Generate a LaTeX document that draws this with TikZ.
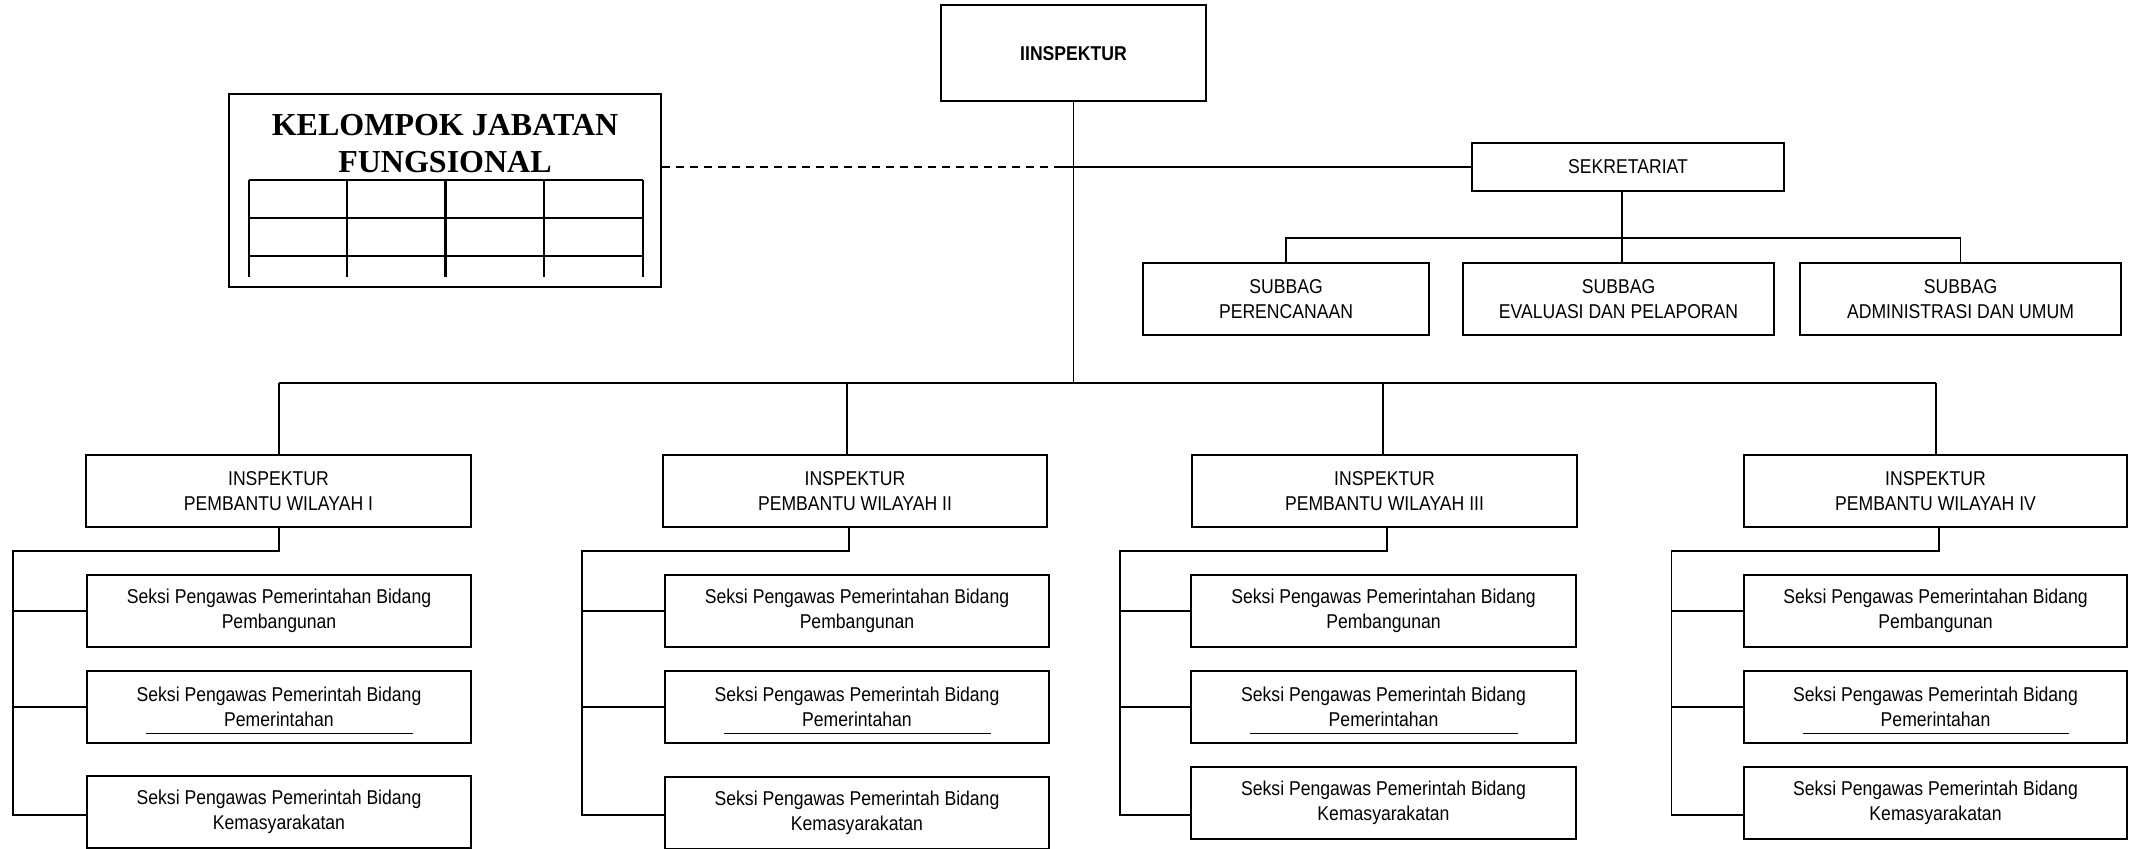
\documentclass[tikz,border=0pt]{standalone}
\usepackage{fontspec}
\setmainfont[FakeStretch=0.88]{Liberation Sans}
\newfontfamily\titlefont{Liberation Serif}
\usetikzlibrary{calc}
\begin{document}
\begin{tikzpicture}[x=0.5pt,y=-0.5pt,
  unit/.style={draw, line width=1pt, inner sep=0pt, align=center,
    minimum height=36pt, font=\fontsize{10}{12.5}\selectfont},
  conn/.style={line width=0.9pt},
  grid/.style={line width=1.25pt},
  uline/.style={line width=0.5pt}]
\fill[white] (0,0) rectangle (2136,849);
\useasboundingbox (0,0) rectangle (2136,849);

% head of the office
\node[unit, minimum width=132.5pt, minimum height=48pt,
  font=\bfseries\fontsize{10}{12.5}\selectfont] (insp) at (1073.5,53.5) {IINSPEKTUR};

% functional group panel with its grid
\node[draw, line width=1.25pt, minimum width=216pt, minimum height=96.5pt, inner sep=0pt] (kjf) at (445,190.5) {};
\node[font=\titlefont\bfseries\fontsize{16}{18.5}\selectfont, align=center, inner sep=0pt]
  (kjft) at (445,143.5) {KELOMPOK JABATAN\\FUNGSIONAL};
\foreach \y in {180,218,256} \draw[grid] (249,\y) -- (643,\y);
\foreach \x in {249,347,445.5,544,643} \draw[grid] (\x,180) -- (\x,277);

% secretariat and its sub-sections
\node[unit, minimum width=156pt, minimum height=24pt] (sek) at (1628,167) {SEKRETARIAT};
\node[unit, minimum width=143pt] (sub1) at (1286,299) {SUBBAG\\PERENCANAAN};
\node[unit, minimum width=155.5pt] (sub2) at (1618.5,299) {SUBBAG\\EVALUASI DAN PELAPORAN};
\node[unit, minimum width=160.5pt] (sub3) at (1960.5,299) {SUBBAG\\ADMINISTRASI DAN UMUM};

\coordinate (j) at (1055,167);
\draw[conn, dashed, dash pattern=on 3.75pt off 3.25pt] (j -| kjf.east) -- (j);
\draw[conn] (j) -- (sek.west);
\coordinate (sb) at (1622,238);
\draw[conn] (sb |- sek.south) -- (sb);
\draw[conn] (sub1.north) -- (sub1.north |- sb) -- (sub3.north |- sb) -- (sub3.north);
\draw[conn] (sb) -- (sb |- sub2.north);

% the four regional inspectors and their sections
\foreach \i/\wx/\ww/\sx/\sw/\sy/\dx/\bx/\px/\nr in {
  1/278.5/192.5/279/192/811.5/279/279/13/I,
  2/855/192/857/192/813/847/849/582/II,
  3/1384.5/192.5/1383.5/192.5/803/1383/1387/1120/III,
  4/1935.5/191.5/1935.5/191.5/803/1936/1939/1671.5/IV}{
  \node[unit, minimum width=\ww pt] (w\i) at (\wx,491) {INSPEKTUR\\PEMBANTU WILAYAH \nr};
  \node[unit, minimum width=\sw pt] (s\i1) at (\sx,611)
    {Seksi Pengawas Pemerintahan Bidang\\Pembangunan};
  \node[unit, minimum width=\sw pt] (s\i2) at (\sx,707)
    {Seksi Pengawas Pemerintah Bidang\\Pemerintahan};
  \node[unit, minimum width=\sw pt] (s\i3) at (\sx,\sy)
    {Seksi Pengawas Pemerintah Bidang\\Kemasyarakatan};
  \draw[uline] ($(s\i2.south west)+(60,-11)$) -- ($(s\i2.south east)+(-59,-11)$);
  \coordinate (d\i) at (\dx,383);
  \coordinate (t\i) at (\bx,551);
  \coordinate (b\i) at (\px,815);
  \draw[conn] (d\i) -- (d\i |- w\i.north);
  \draw[conn] (t\i |- w\i.south) -- (t\i) -| (b\i) -- (b\i -| s\i3.west);
  \draw[conn] (s\i1.west) -- (s\i1.west -| b\i);
  \draw[conn] (s\i2.west) -- (s\i2.west -| b\i);
}
\draw[conn] (d1) -- (d4);
\draw[conn] (insp.south) -- (insp.south |- d1);
\end{tikzpicture}
\end{document}
